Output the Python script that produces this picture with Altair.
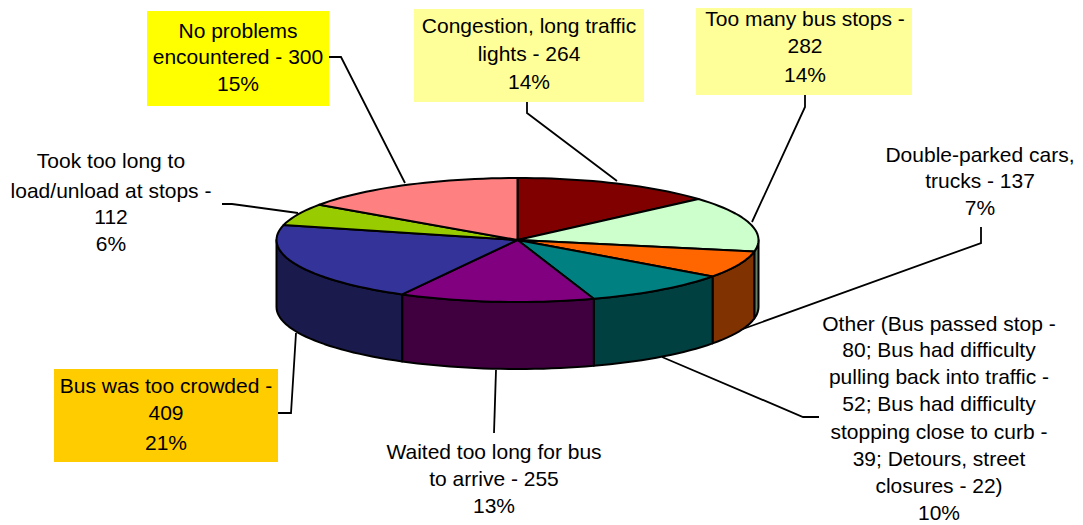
import math
import altair as alt

# --- values -----------------------------------------------------------------
categories = ["Congestion, long traffic lights", "Too many bus stops", "Double-parked cars, trucks",
              "Other", "Waited too long for bus to arrive", "Bus was too crowded",
              "Took too long to load/unload at stops", "No problems encountered"]
counts = [264, 282, 137, 193, 255, 409, 112, 300]
top_colors = ["#800000", "#CCFFCC", "#FF6600", "#008080", "#800080", "#333399", "#99CC00", "#FF8080"]
side_colors = ["#400000", "#668066", "#803300", "#004040", "#400040", "#1A1A4D", "#4D6600", "#804040"]

label_lines = [
    ["Congestion, long traffic", "lights - 264", "14%"],
    ["Too many bus stops -", "282", "14%"],
    ["Double-parked cars,", "trucks - 137", "7%"],
    ["Other (Bus passed stop -", "80; Bus had difficulty", "pulling back into traffic -",
     "52; Bus had difficulty", "stopping close to curb -", "39; Detours, street",
     "closures - 22)", "10%"],
    ["Waited too long for bus", "to arrive - 255", "13%"],
    ["Bus was too crowded -", "409", "21%"],
    ["Took too long to", "load/unload at stops -", "112", "6%"],
    ["No problems", "encountered - 300", "15%"],
]
label_cx = [529, 805, 980, 939, 494, 166, 111, 238]
label_ys = [
    [27, 55, 83], [20, 47, 76], [156, 182, 209],
    [325, 351, 378, 405, 433, 460, 487, 514],
    [453, 480, 507], [387, 414, 444], [162, 192, 218, 245], [32, 58, 85],
]
boxes = [
    dict(x=414, x2=644, y=9, y2=102, c="#FFFF99"),
    dict(x=696, x2=912, y=2, y2=95, c="#FFFF99"),
    dict(x=54, x2=278, y=369, y2=462, c="#FFCC00"),
    dict(x=147, x2=329, y=11, y2=106, c="#FFFF00"),
]
leaders = [
    [(527, 102), (527, 113), (617, 181)],
    [(805, 95), (805, 107), (752, 222)],
    [(981, 227), (981, 243), (740, 330)],
    [(662, 357), (803, 417), (819, 417)],
    [(496, 370), (494, 433)],
    [(278, 413), (291, 413), (296, 333)],
    [(222, 204), (232, 204), (298, 213)],
    [(329, 57), (341, 57), (405, 183)],
]

# --- pie geometry -----------------------------------------------------------
CX, CY, RX, RY, DEPTH = 517.5, 240, 241, 62, 67
total = sum(counts)
edges = [0.0]
for c in counts:
    edges.append(edges[-1] + c / total * 2 * math.pi)


def rim(t, drop=0):
    return [CX + RX * math.sin(t), CY - RY * math.cos(t) + drop]


def arc(a, b, drop=0):
    n = max(2, int(abs(b - a) / math.radians(2)))
    return [rim(a + (b - a) * i / n, drop) for i in range(n + 1)]


def feature(ring, fill):
    ring = ring + [ring[0]]
    return {"type": "Feature", "properties": {"fill": fill},
            "geometry": {"type": "Polygon", "coordinates": [ring]}}


features = []
for i in range(len(counts)):
    a, b = max(edges[i], math.pi / 2), min(edges[i + 1], 3 * math.pi / 2)
    if b > a:
        features.append(feature(arc(a, b) + arc(b, a, DEPTH), side_colors[i]))
for i in range(len(counts)):
    features.append(feature([[CX, CY]] + arc(edges[i], edges[i + 1]), top_colors[i]))

# --- tables -----------------------------------------------------------------
text_rows = [dict(x=cx, y=y, t=t)
             for cx, ys, lines in zip(label_cx, label_ys, label_lines)
             for y, t in zip(ys, lines)]
line_rows = [dict(x=p[0], y=p[1], g=i, o=j)
             for i, pts in enumerate(leaders) for j, p in enumerate(pts)]

W, H = 1067, 516
xs = alt.Scale(domain=[8, 8 + W], range=[0, W], nice=False, zero=False)
ys = alt.Scale(domain=[8, 8 + H], range=[0, H], nice=False, zero=False)
X = alt.X("x:Q", scale=xs, axis=None)
Y = alt.Y("y:Q", scale=ys, axis=None)

rects = alt.Chart(alt.Data(values=boxes)).mark_rect().encode(
    x=X, x2="x2:Q", y=Y, y2="y2:Q", color=alt.Color("c:N", scale=None, legend=None))

lines = alt.Chart(alt.Data(values=line_rows)).mark_line(color="black", strokeWidth=1.8).encode(
    x=X, y=Y, detail="g:N", order="o:Q")

pie = alt.Chart(alt.Data(values=features)).mark_geoshape(
    stroke="black", strokeWidth=2, strokeJoin="round"
).encode(
    color=alt.Color("properties.fill:N", scale=None, legend=None)
).project(type="identity", scale=1, translate=[-8, -8])

texts = alt.Chart(alt.Data(values=text_rows)).mark_text(
    font="Liberation Sans", fontSize=21, color="black", align="center", baseline="middle"
).encode(x=X, y=Y, text="t:N")

chart = alt.layer(rects, lines, pie, texts).resolve_scale(color="independent").properties(
    width=W, height=H, padding=0, autosize=alt.AutoSizeParams(type="none"),
    background="white"
).configure_view(stroke=None)

chart.save("out.html", embed_options={"renderer": "svg", "actions": False})
